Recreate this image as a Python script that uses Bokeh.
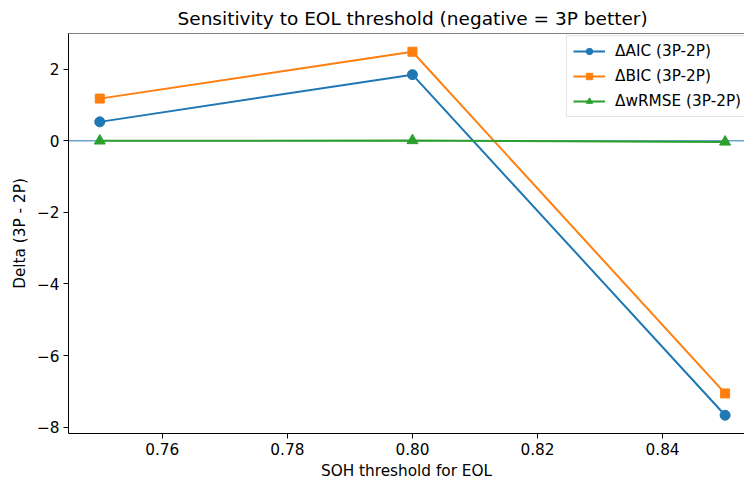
from bokeh.plotting import figure
from bokeh.models import (Range1d, FixedTicker, CustomJSTickFormatter, Span, Legend, LegendItem)
from bokeh.embed import file_html
from bokeh.resources import INLINE

# ---- data ----
soh_threshold = [0.75, 0.80, 0.85]
delta_aic = [0.53, 1.85, -7.67]
delta_bic = [1.18, 2.49, -7.06]
delta_wrmse = [0.0, 0.01, -0.03]

x_ticks = [0.76, 0.78, 0.80, 0.82, 0.84]
y_ticks = [-8, -6, -4, -2, 0, 2]

title_text = "Sensitivity to EOL threshold (negative = 3P better)"
x_label = "SOH threshold for EOL"
y_label = "Delta (3P - 2P)"
names = ["\u0394AIC (3P-2P)", "\u0394BIC (3P-2P)", "\u0394wRMSE (3P-2P)"]
colors = ["#1f77b4", "#ff7f0e", "#2ca02c"]

FONT = "DejaVu Sans"
FS = "15.3px"

p = figure(width=744, height=482, output_backend="svg", toolbar_location=None,
           x_range=Range1d(0.745, 0.8531), y_range=Range1d(-8.18, 3.0),
           min_border_left=68, min_border_right=0, min_border_top=0, min_border_bottom=49)

p.title.text = title_text
p.title.text_font = FONT
p.title.text_font_size = "18.5px"
p.title.text_font_style = "normal"
p.title.align = "left"
p.title.offset = 109
p.title.standoff = 10
p.title.text_color = "black"

p.grid.visible = False
p.outline_line_color = None
p.background_fill_color = "white"
p.border_fill_color = "white"

for ax in (p.xaxis[0], p.yaxis[0]):
    ax.major_tick_in = 0
    ax.major_tick_out = 5
    ax.minor_tick_line_color = None
    ax.major_label_text_font = FONT
    ax.major_label_text_font_size = FS
    ax.major_label_text_color = "black"
    ax.axis_label_text_font = FONT
    ax.axis_label_text_font_size = FS
    ax.axis_label_text_font_style = "normal"
    ax.axis_label_text_color = "black"
    ax.axis_line_color = "black"
    ax.major_tick_line_color = "black"
    ax.major_label_standoff = 4

p.xaxis[0].ticker = FixedTicker(ticks=x_ticks)
p.xaxis[0].formatter = CustomJSTickFormatter(code="return tick.toFixed(2);")
p.xaxis[0].axis_label = x_label
p.xaxis[0].axis_label_standoff = 4

p.yaxis[0].ticker = FixedTicker(ticks=y_ticks)
p.yaxis[0].formatter = CustomJSTickFormatter(code="return tick.toFixed(0).replace('-', '\u2212');")
p.yaxis[0].axis_label = y_label
p.yaxis[0].axis_label_standoff = 5

# top spine
p.add_layout(Span(location=3.0, dimension="width", line_color="black", line_width=1))
# zero line
p.add_layout(Span(location=0, dimension="width", line_color="#1f77b4", line_width=1, level="underlay"))

items = []
series = [delta_aic, delta_bic, delta_wrmse]
markers = ["circle", "square", "triangle"]
sizes = [10, 9, 11]
for ys, c, m, s, n in zip(series, colors, markers, sizes, names):
    r1 = p.line(soh_threshold, ys, line_color=c, line_width=2)
    r2 = p.scatter(soh_threshold, ys, marker=m, size=s, fill_color=c, line_color=c)
    items.append(LegendItem(label=n, renderers=[r1, r2]))

legend = Legend(items=items, location=(498, 316))
legend.label_text_font = FONT
legend.label_text_font_size = FS
legend.label_text_color = "black"
legend.glyph_width = 32
legend.glyph_height = 16
legend.label_height = 16
legend.label_standoff = 10
legend.spacing = 7
legend.padding = 6
legend.margin = 0
legend.border_line_color = "#cccccc"
legend.border_line_width = 1
legend.background_fill_alpha = 0.8
p.add_layout(legend)

open("out.html", "w").write(file_html(p, INLINE))
